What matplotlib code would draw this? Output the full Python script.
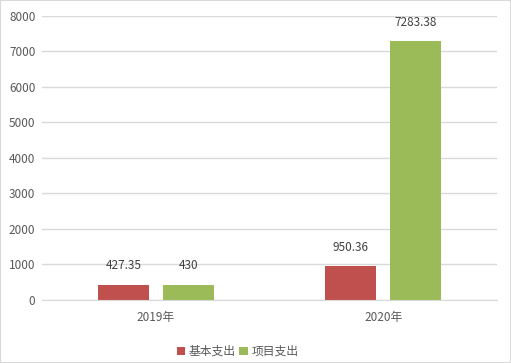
import numpy as np
import matplotlib.pyplot as plt

plt.rcParams['font.family'] = ['Noto Sans CJK SC', 'DejaVu Sans']

years = ["2019年", "2020年"]
basic = [427.35, 950.36]
project = [430, 7283.38]
basic_labels = ["427.35", "950.36"]
project_labels = ["430", "7283.38"]

fig = plt.figure(figsize=(5.11, 3.63), dpi=100)
ax = fig.add_axes([0.083, 0.1736, 0.889, 0.7834])

x = np.arange(len(years))
w = 0.225
off = 0.143
b1 = ax.bar(x - off, basic, w, color="#C0504D", label="基本支出")
b2 = ax.bar(x + off, project, w, color="#9BBB59", label="项目支出")

for bars, labs in ((b1, basic_labels), (b2, project_labels)):
    for r, t in zip(bars, labs):
        ax.annotate(t, (r.get_x() + r.get_width() / 2, r.get_height()),
                    xytext=(0, 9), textcoords="offset points",
                    ha="center", va="bottom", fontsize=8.5, color="#404040")

ax.set_xlim(-0.5, 1.5)
ax.set_ylim(0, 8000)
ax.set_yticks(range(0, 8001, 1000))
ax.set_xticks(x)
ax.set_xticklabels(years)
ax.tick_params(axis="both", length=0, labelsize=8.5, colors="#595959")
ax.tick_params(axis="y", pad=5)
ax.tick_params(axis="x", pad=8)
ax.yaxis.grid(True, color="#D9D9D9", linewidth=1)
ax.set_axisbelow(True)
for s in ax.spines.values():
    s.set_visible(False)
ax.spines["bottom"].set_visible(True)
ax.spines["bottom"].set_color("#D9D9D9")

fig.legend(loc="lower center", bbox_to_anchor=(0.465, -0.015), ncol=2, frameon=False,
           fontsize=8.5, handlelength=0.7, handleheight=0.7, handletextpad=0.3,
           columnspacing=0.3, labelcolor="#595959")

fig.patches.append(plt.Rectangle((0, 0), 1, 1, transform=fig.transFigure,
                                 fill=False, edgecolor="#D9D9D9", linewidth=1.5))

fig.savefig("out.png", dpi=100)
